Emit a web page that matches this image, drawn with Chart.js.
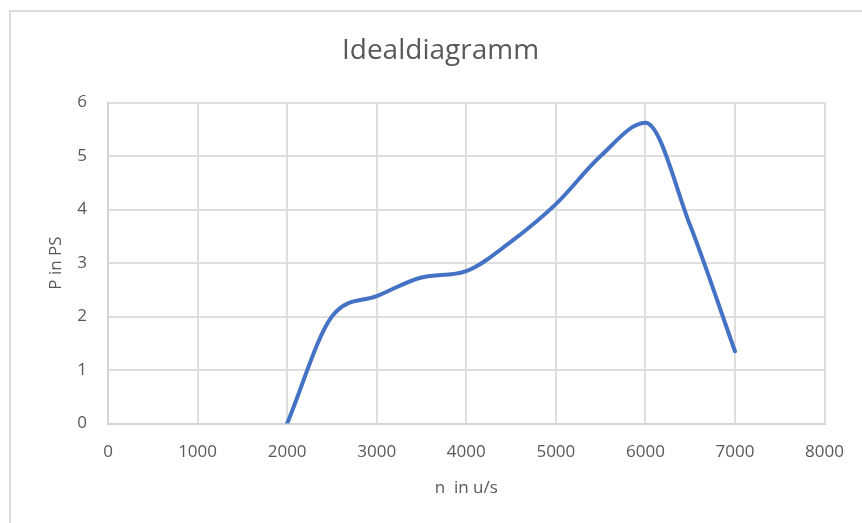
<!DOCTYPE html>
<html>
<head>
<meta charset="utf-8">
<title>Idealdiagramm</title>
<script src="https://cdn.jsdelivr.net/npm/chart.js@4/dist/chart.umd.min.js"></script>
<style>
  html, body { margin: 0; padding: 0; background: #ffffff; }
  #wrap { position: relative; width: 862px; height: 523px; }
</style>
</head>
<body>
<div id="wrap"><canvas id="chart" width="862" height="523"></canvas></div>
<script>
// Drehzahl n (u/s) and Leistung P (PS)
const drehzahl = [2000, 2500, 3000, 3500, 4000, 4500, 5000, 5500, 6000, 6500, 7000];
const leistung = [0, 2.0, 2.38, 2.73, 2.85, 3.4, 4.1, 5.0, 5.62, 3.7, 1.35];

// axis tick values
const xTickValues = [0, 1000, 2000, 3000, 4000, 5000, 6000, 7000, 8000];
const yTickValues = [0, 1, 2, 3, 4, 5, 6];

const textColor = '#595959';
const gridColor = '#dedede';
const fontFamily = '"Open Sans", "Liberation Sans", sans-serif';

// light frame around the chart object
const framePlugin = {
  id: 'frame',
  beforeDraw(chart) {
    const ctx = chart.ctx;
    ctx.save();
    ctx.fillStyle = '#ffffff';
    ctx.fillRect(0, 0, chart.width, chart.height);
    ctx.strokeStyle = '#dcdcdc';
    ctx.lineWidth = 2;
    ctx.beginPath();
    ctx.moveTo(10, chart.height);
    ctx.lineTo(10, 11);
    ctx.lineTo(chart.width, 11);
    ctx.stroke();
    ctx.restore();
  }
};

new Chart(document.getElementById('chart'), {
  type: 'scatter',
  data: {
    datasets: [{
      label: 'P',
      data: drehzahl.map((n, i) => ({ x: n, y: leistung[i] })),
      showLine: true,
      borderColor: '#4472c4',
      borderWidth: 4,
      borderCapStyle: 'round',
      borderJoinStyle: 'round',
      cubicInterpolationMode: 'monotone',
      pointRadius: 0,
      pointHoverRadius: 0,
      fill: false
    }]
  },
  plugins: [framePlugin],
  options: {
    responsive: false,
    animation: false,
    events: [],
    layout: { padding: { left: 53, right: 34, top: 0, bottom: 0 } },
    plugins: {
      legend: { display: false },
      tooltip: { enabled: false },
      title: {
        display: true,
        text: 'Idealdiagramm',
        color: textColor,
        font: { family: fontFamily, size: 28, weight: 'normal', lineHeight: 1.2 },
        padding: { top: 34.5, bottom: 34.4 }
      }
    },
    scales: {
      x: {
        type: 'linear',
        min: 0,
        max: 8000,
        afterBuildTicks(scale) { scale.ticks = xTickValues.map(v => ({ value: v })); },
        afterFit(scale) { scale.height = 99.5; },
        ticks: {
          color: textColor,
          font: { family: fontFamily, size: 17, lineHeight: 1.2 },
          padding: 18,
          maxRotation: 0,
          callback: v => String(v)
        },
        grid: { color: gridColor, lineWidth: 2, drawTicks: false },
        border: { color: '#d4d4d4', width: 2 },
        title: {
          display: true,
          text: 'n  in u/s',
          color: textColor,
          font: { family: fontFamily, size: 17, lineHeight: 1.2 },
          padding: { top: 0, bottom: 24.8 }
        }
      },
      y: {
        type: 'linear',
        min: 0,
        max: 6,
        afterBuildTicks(scale) { scale.ticks = yTickValues.map(v => ({ value: v })); },
        afterFit(scale) { scale.width = 55; },
        ticks: {
          color: textColor,
          font: { family: fontFamily, size: 17, lineHeight: 1.2 },
          padding: 21,
          callback: v => String(v)
        },
        grid: { color: gridColor, lineWidth: 2, drawTicks: false },
        border: { color: '#d4d4d4', width: 2 },
        title: {
          display: true,
          text: 'P in PS',
          color: textColor,
          font: { family: fontFamily, size: 17, lineHeight: 1.2 },
          padding: { top: -6.7, bottom: 0 }
        }
      }
    }
  }
});
</script>
</body>
</html>
